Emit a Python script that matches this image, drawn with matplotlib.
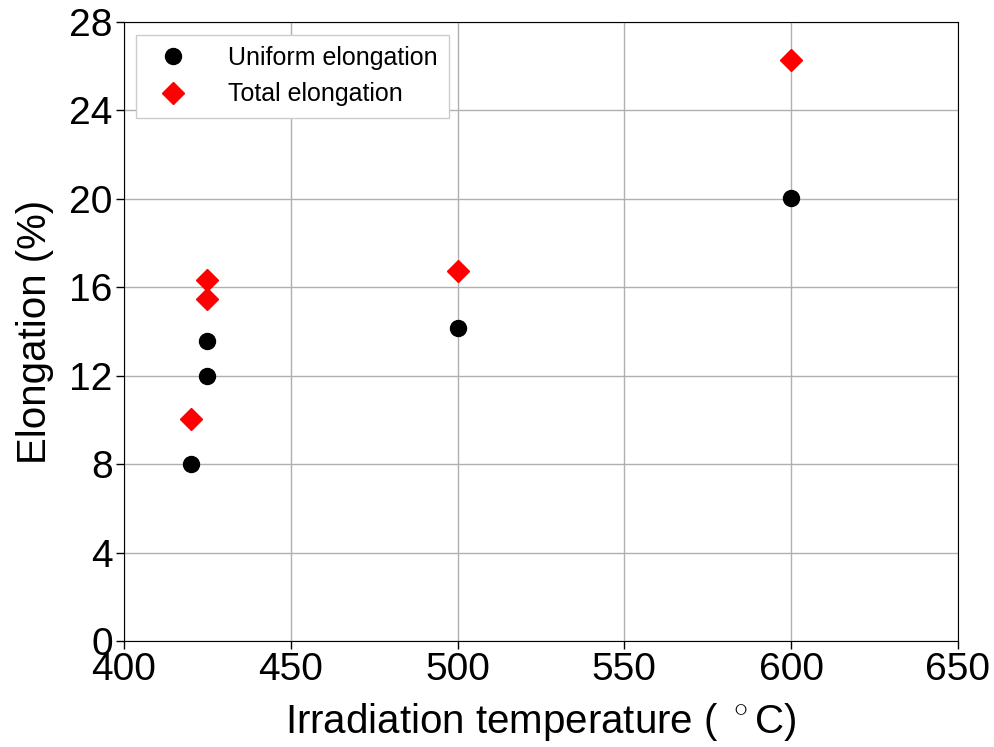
import matplotlib
matplotlib.use('Agg')
import matplotlib.pyplot as plt

plt.rcParams['font.family'] = ['Liberation Sans', 'DejaVu Sans']
plt.rcParams['mathtext.fontset'] = 'custom'
plt.rcParams['mathtext.rm'] = 'Liberation Sans'

temp_uniform = [420, 425, 425, 500, 600]
uniform_elong = [8.0, 12.0, 13.55, 14.15, 20.05]

temp_total = [420, 425, 425, 500, 600]
total_elong = [10.05, 15.45, 16.35, 16.75, 26.3]

fig = plt.figure(figsize=(9.95, 7.47), dpi=100)
ax = fig.add_axes([0.1246, 0.1419, 0.8382, 0.8286])

ax.plot(temp_uniform, uniform_elong, 'o', color='black', markersize=11.5,
        label='Uniform elongation', zorder=3)
ax.plot(temp_total, total_elong, 'D', color='red', markersize=11.5,
        label='Total elongation', zorder=3)

ax.set_xlim(400, 650)
ax.set_ylim(0, 28)
ax.set_xticks([400, 450, 500, 550, 600, 650])
ax.set_yticks(range(0, 29, 4))
ax.grid(True, color='#b0b0b0', linewidth=1)
ax.set_axisbelow(True)
ax.tick_params(direction='out', length=6, width=1, pad=2, labelsize=28)

ax.set_xlabel(r'Irradiation temperature ( $^\circ$C)', fontsize=29, labelpad=9)
ax.set_ylabel('Elongation (%)', fontsize=29, labelpad=11)

leg = ax.legend(loc='upper left', fontsize=18, numpoints=1, fancybox=False,
                edgecolor='#cccccc', framealpha=1, borderpad=0.45,
                handletextpad=1.2, borderaxespad=0.5)

fig.savefig('out.png', dpi=100)
